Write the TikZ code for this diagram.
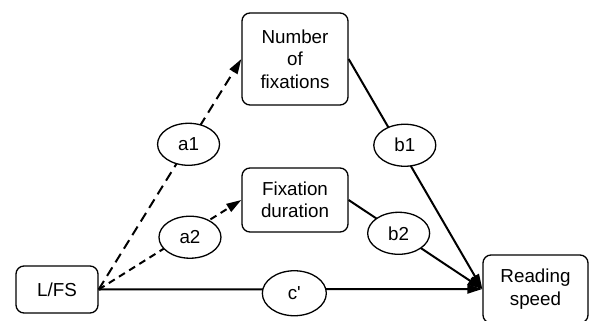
\documentclass[tikz,border=0pt]{standalone}
\usepackage{fontspec}
\setmainfont{Liberation Sans}
\usetikzlibrary{arrows.meta,shapes.geometric}
\begin{document}
\begin{tikzpicture}[x=1pt,y=-1pt,
  box/.style={draw, solid, line width=1.3pt, rounded corners=8pt, fill=white, align=center,
    font=\fontsize{18.8}{22.5}\selectfont, inner sep=0pt},
  ell/.style={draw, solid, ellipse, line width=1.3pt, fill=white, inner sep=0pt,
    minimum width=62pt, minimum height=42pt, font=\fontsize{18.8}{22.5}\selectfont},
  link/.style={line width=2pt, -{Triangle[length=15pt,width=9pt]}},
  dlink/.style={link, dashed}
]
\useasboundingbox (0,0) rectangle (589,321);
\node[box, minimum width=106pt, minimum height=92pt] (num) at (295,59) {Number\\of\\fixations};
\node[box, minimum width=106pt, minimum height=64pt] (fix) at (295,200) {Fixation\\duration};
\node[box, minimum width=82pt, minimum height=47pt] (lfs) at (57,289.5) {L/FS};
\node[box, minimum width=105pt, minimum height=68pt] (rs) at (535.5,289) {Reading\\speed};

\draw[dlink, dash pattern=on 10pt off 6pt] (lfs.east) -- (num.west)
  node[ell, pos=0.63] (a1) {a1};
\draw[dlink, dash pattern=on 7pt off 5pt] (lfs.east) -- (fix.west)
  node[ell, pos=0.64, yshift=-5pt] (a2) {a2};
\draw[link] (lfs.east) -- (rs.west)
  node[ell, pos=0.51, minimum width=64pt, minimum height=45pt, yshift=-4pt] (c) {c\textquotesingle};
\draw[link] (num.east) -- (rs.west)
  node[ell, pos=0.375, xshift=6pt] (b1) {b1};
\draw[link] (fix.east) -- (rs.west)
  node[ell, pos=0.374] (b2) {b2};
\end{tikzpicture}
\end{document}
